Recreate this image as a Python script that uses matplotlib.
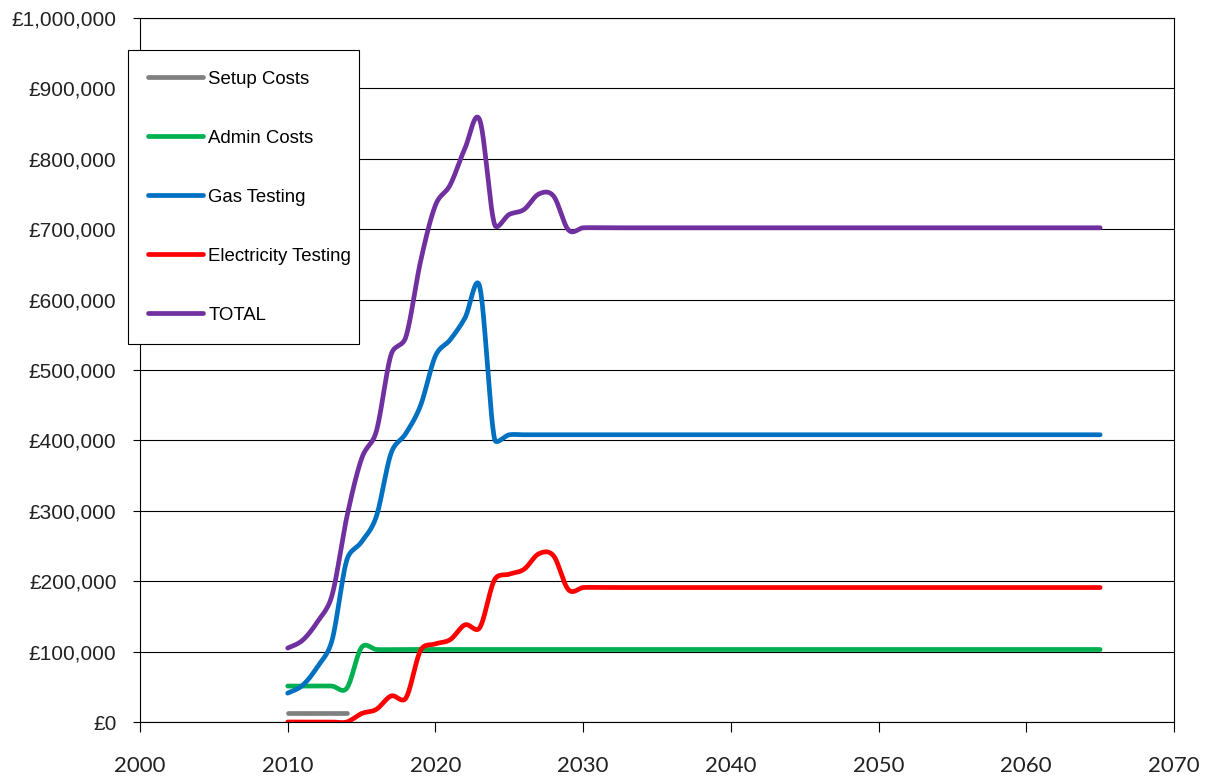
import numpy as np
import matplotlib.pyplot as plt
from matplotlib.ticker import FuncFormatter, MultipleLocator

# Annual cost projections, 2010-2065
years = list(range(2010, 2066))

setup_years = list(range(2010, 2015))
setup_costs = [13000, 13000, 13000, 13000, 13000]

admin_costs = [51000, 51000, 51000, 51000, 48000, 106000] + [103000] * 50

gas_testing = [41000, 52000, 78000, 116000, 230000, 256000, 292000, 382000,
               410000, 450000, 520000, 543000, 574000, 618000, 402000] + [408000] * 41

elec_testing = [0, 0, 0, 0, 0, 12000, 18000, 37000, 34000, 102000, 111000,
                117000, 138000, 134000, 202000, 210000, 217000, 239000, 236000,
                188000] + [191000] * 36

total_costs = [105000, 116000, 142000, 180000, 291000, 374000, 413000, 522000,
               547000, 655000, 734000, 763000, 815000, 855000, 707000, 721000,
               728000, 750000, 747000, 699000] + [702000] * 36

series = [
    ("Setup Costs", setup_years, setup_costs, "#808080"),
    ("Admin Costs", years, admin_costs, "#00B050"),
    ("Gas Testing", years, gas_testing, "#0070C0"),
    ("Electricity Testing", years, elec_testing, "#FF0000"),
    ("TOTAL", years, total_costs, "#7030A0"),
]

# pixel scale of the plot area, used so the smoothing works in screen space
PX_PER_YEAR = 1034 / 70
PX_PER_POUND = 704 / 1000000


def smooth(x, y, steps=24):
    """Bezier 'smoothed line' with handles clamped to half the segment length."""
    sx = np.asarray(x, float) * PX_PER_YEAR
    sy = np.asarray(y, float) * PX_PER_POUND
    pts = np.column_stack([sx, sy])
    n = len(pts)
    if n < 3:
        return np.asarray(x, float), np.asarray(y, float)
    t = np.linspace(0, 1, steps, endpoint=False)[:, None]
    out = []
    for i in range(n - 1):
        p1, p2 = pts[i], pts[i + 1]
        p0 = pts[i - 1] if i > 0 else p1
        p3 = pts[i + 2] if i + 2 < n else p2
        d12 = np.linalg.norm(p2 - p1)
        d02 = np.linalg.norm(p2 - p0)
        d13 = np.linalg.norm(p3 - p1)
        f0 = 1 / 6 if d02 / 6 < d12 / 2 else (d12 / 2) / d02 if d02 else 0
        f3 = 1 / 6 if d13 / 6 < d12 / 2 else (d12 / 2) / d13 if d13 else 0
        c1 = p1 + f0 * (p2 - p0)
        c2 = p2 - f3 * (p3 - p1)
        b = (1 - t) ** 3 * p1 + 3 * (1 - t) ** 2 * t * c1 \
            + 3 * (1 - t) * t ** 2 * c2 + t ** 3 * p2
        out.append(b)
    out.append(pts[-1:])
    out = np.vstack(out)
    return out[:, 0] / PX_PER_YEAR, out[:, 1] / PX_PER_POUND


fig = plt.figure(figsize=(12.19, 7.78), dpi=100)
ax = fig.add_axes([140 / 1219, 1 - 722 / 778, 1034 / 1219, 704 / 778])

handles = []
for label, xs, ys, color in series:
    sx, sy = smooth(xs, ys)
    line, = ax.plot(sx, sy, color=color, lw=3.4, solid_capstyle="round",
                    solid_joinstyle="round", label=label)
    handles.append(line)

ax.set_xlim(2000, 2070)
ax.set_ylim(0, 1000000)
ax.xaxis.set_major_locator(MultipleLocator(10))
ax.yaxis.set_major_locator(MultipleLocator(100000))
ax.yaxis.set_major_formatter(FuncFormatter(lambda v, p: f"£{v:,.0f}"))

ax.grid(axis="y", color="black", lw=0.8)
ax.set_axisbelow(True)
for s in ax.spines.values():
    s.set_color("black")
    s.set_linewidth(0.8)

ax.tick_params(axis="y", direction="out", length=5, width=0.8, pad=12)
ax.tick_params(axis="x", direction="out", length=7.5, width=0.8, pad=17)
for t in ax.get_yticklabels():
    t.set_fontfamily("Liberation Sans")
    t.set_fontsize(15)
    t.set_color("#222222")
for t in ax.get_xticklabels():
    t.set_fontfamily("Lato")
    t.set_fontsize(16)
    t.set_color("#222222")

leg_top = 1 - 50 / 778
leg = fig.legend(handles=handles, loc="upper left",
                 bbox_to_anchor=(128 / 1219, leg_top, 231 / 1219, 0),
                 mode="expand", borderaxespad=0, fancybox=False,
                 edgecolor="black", framealpha=1,
                 prop={"family": "Liberation Sans", "size": 13.4},
                 handlelength=2.95, handletextpad=0.27, labelspacing=2.26,
                 borderpad=1.1)
leg.get_frame().set_linewidth(0.8)

fig.savefig("out.png", dpi=100)
